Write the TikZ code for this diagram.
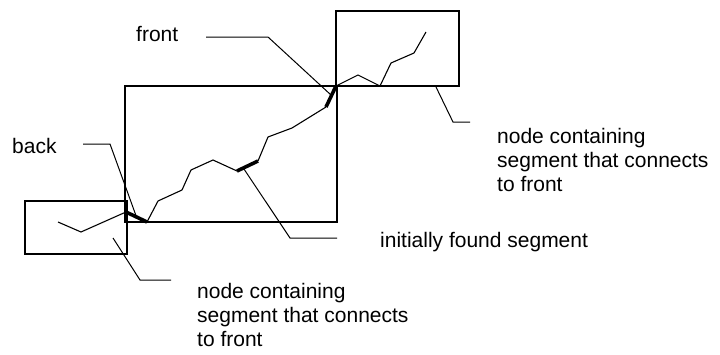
\documentclass[tikz,border=0pt]{standalone}
\usepackage{fontspec}
\setmainfont{Liberation Sans}
\usetikzlibrary{calc}
\tikzset{
  cellbox/.style = {draw, line width=1.1pt},
  trace/.style = {line width=1.1pt, line join=miter},
  hitseg/.style = {line width=3.6pt},
  leader/.style = {line width=1pt},
  notetext/.style = {inner sep=0pt, anchor=base west, align=left, font=\fontsize{21}{24}\selectfont},
}
\begin{document}
\begin{tikzpicture}[x=1pt, y=-1pt]
\useasboundingbox (0,0) rectangle (720,354);

% node boxes
\draw[cellbox] (125,86) rectangle (337,222);
\draw[cellbox] (336,11) rectangle (459,86);
\draw[cellbox] (25,201) rectangle (127,254);

% points of the traced line
\foreach \n/\x/\y in {p1/58/222, p2/81/232, p3/126/212, p4/147/222, p5/158/201,
  p6/182/190, p7/191/170, p8/213/160, p9/237/171, p10/258/161, p11/268/137,
  p12/292/128, p13/326/107, p14/336/86, p15/358/75, p16/380/86, p17/391/63,
  p18/414/53, p19/426/32}
  \coordinate (\n) at (\x,\y);

\draw[trace] (p1) -- (p2) -- (p3);
\draw[trace] (p4) -- (p5) -- (p6) -- (p7) -- (p8) -- (p9);
\draw[trace] (p10) -- (p11) -- (p12) -- (p13);
\draw[trace] (p14) -- (p15) -- (p16) -- (p17) -- (p18) -- (p19);

% segments found
\draw[hitseg] (p3) -- (p4);
\draw[hitseg] (p9) -- (p10);
\draw[hitseg] (p13) -- (p14);

% labels (base of a multi-line note is its last line)
\node[notetext] (front) at (136,41) {front};
\node[notetext] (back) at (12,153) {back};
\node[notetext] (initseg) at (380,247) {initially found segment};
\node[notetext] (frontnode) at (497,191.5) {node containing\\segment that connects\\to front};
\node[notetext] (backnode) at (197,346) {node containing\\segment that connects\\to front};

% leader lines
\coordinate (fa) at (206,37);  \coordinate (fb) at (268,37);
\coordinate (ba) at (83,144);  \coordinate (bb) at (110,144);
\coordinate (ia) at (337,238); \coordinate (ib) at (290,238);
\coordinate (na) at (470,122); \coordinate (nb) at (453,122); \coordinate (nc) at (436,87);
\coordinate (ma) at (171,280); \coordinate (mb) at (140,280); \coordinate (mc) at (113,238);

\draw[leader] (fa) -- (fb) -- ($(p13)!0.55!(p14)$);
\draw[leader] (ba) -- (bb) -- ($(p3)!0.5!(p4)$);
\draw[leader] (ia) -- (ib) -- ($(p9)!0.3!(p10)$);
\draw[leader] (na) -- (nb) -- (nc);
\draw[leader] (ma) -- (mb) -- (mc);

\end{tikzpicture}
\end{document}
